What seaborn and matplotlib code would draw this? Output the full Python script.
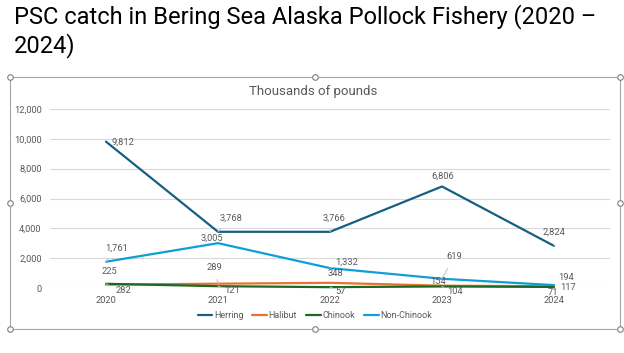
import matplotlib
matplotlib.use("Agg")
import matplotlib.pyplot as plt
import seaborn as sns
import pandas as pd
from matplotlib.lines import Line2D
from matplotlib.patches import Rectangle

# ---- data ----
years = ["2020", "2021", "2022", "2023", "2024"]
series_names = ["Herring", "Halibut", "Chinook", "Non-Chinook"]
herring = [9812, 3768, 3766, 6806, 2824]
halibut = [225, 289, 348, 154, 117]
chinook = [282, 121, 57, 104, 71]
non_chinook = [1761, 3005, 1332, 619, 194]
y_ticks = [0, 2000, 4000, 6000, 8000, 10000, 12000]

values = {"Herring": herring, "Halibut": halibut, "Chinook": chinook, "Non-Chinook": non_chinook}
rows = []
for s in series_names:
    for i, y in enumerate(years):
        rows.append({"Year": i, "Value": values[s][i], "Series": s})
df = pd.DataFrame(rows)

colors = {"Herring": "#156082", "Halibut": "#E97132", "Chinook": "#196B24", "Non-Chinook": "#0F9ED5"}

# label offsets in pixels (dx, dy, leader)
offsets = {
    "Herring": [(17, -1, False), (13, 14, True), (4, 14, True), (1, 10, False), (0, 14, True)],
    "Non-Chinook": [(11, 14, True), (-6, 5, False), (17, 6, True), (12, 22, True), (12, 8, False)],
    "Halibut": [(3, 13, False), (-4, 16, True), (5, 9, False), (-4, 4, False), (14, -1, False)],
    "Chinook": [(17, -7, True), (14, -4, True), (11, -4, True), (13, -5, True), (-1, -6, False)],
}

W, H = 624, 353
fig = plt.figure(figsize=(W / 100, H / 100), dpi=100)
sns.set_style("white")
plt.rcParams["font.family"] = ["Roboto", "DejaVu Sans"]

ax = fig.add_axes([50 / W, 1 - 288 / H, 560 / W, (288 - 109) / H])
sns.lineplot(data=df, x="Year", y="Value", hue="Series", hue_order=series_names,
             palette=colors, linewidth=1.6, ax=ax, legend=False, clip_on=False)

ax.set_xlim(-0.5, 4.5)
ax.set_ylim(0, 12000)
ax.set_yticks(y_ticks)
ax.set_yticklabels([f"{v:,}" for v in y_ticks])
ax.set_xticks(range(len(years)))
ax.set_xticklabels(years)
ax.tick_params(axis="both", length=0, labelsize=6.7, colors="#595959")
ax.tick_params(axis="y", pad=6)
ax.tick_params(axis="x", pad=6)
ax.grid(axis="y", color="#D9D9D9", linewidth=0.8)
ax.set_axisbelow(True)
for sp in ax.spines.values():
    sp.set_visible(False)
ax.set_xlabel("")
ax.set_ylabel("")

for s in series_names:
    for i, v in enumerate(values[s]):
        dx, dy, leader = offsets[s][i]
        ax.annotate(f"{v:,}", xy=(i, v), xytext=(dx, dy), textcoords="offset pixels",
                    ha="center", va="center", fontsize=6.7, color="#595959",
                    arrowprops=dict(arrowstyle="-", color="#BFBFBF", lw=0.7, shrinkA=3, shrinkB=0) if leader else None,
                    annotation_clip=False)

# chart title
fig.text(313 / W, 1 - 91 / H, "Thousands of pounds", ha="center", va="center", fontsize=9.5, color="#595959")

# legend
handles = [Line2D([0], [0], color=colors[s], lw=1.6) for s in series_names]
fig.legend(handles, series_names, loc="center", bbox_to_anchor=(315 / W, 1 - 316 / H), ncol=4,
           frameon=False, fontsize=6.5, handlelength=1.6, handletextpad=0.2, columnspacing=1.0,
           labelcolor="#595959")

# slide title
fig.text(14 / W, 1 - 4 / H, "PSC catch in Bering Sea Alaska Pollock Fishery (2020 –\n2024)",
         ha="left", va="top", fontsize=17, color="#000000", linespacing=1.2)

# selection frame with handles
fig.add_artist(Rectangle((10 / W, 1 - 329 / H), 610 / W, (329 - 77) / H, transform=fig.transFigure,
                         fill=False, edgecolor="#A6A6A6", lw=0.8))
hx = [10, 315, 620]
hy = [77, 203, 329]
pts = [(x, y) for x in hx for y in hy if not (x == 315 and y == 203)]
fig.add_artist(Line2D([p[0] / W for p in pts], [1 - p[1] / H for p in pts], transform=fig.transFigure,
                      linestyle="none", marker="o", markersize=4, markerfacecolor="white",
                      markeredgecolor="#7F7F7F", markeredgewidth=0.8))

fig.savefig("out.png", dpi=100)
